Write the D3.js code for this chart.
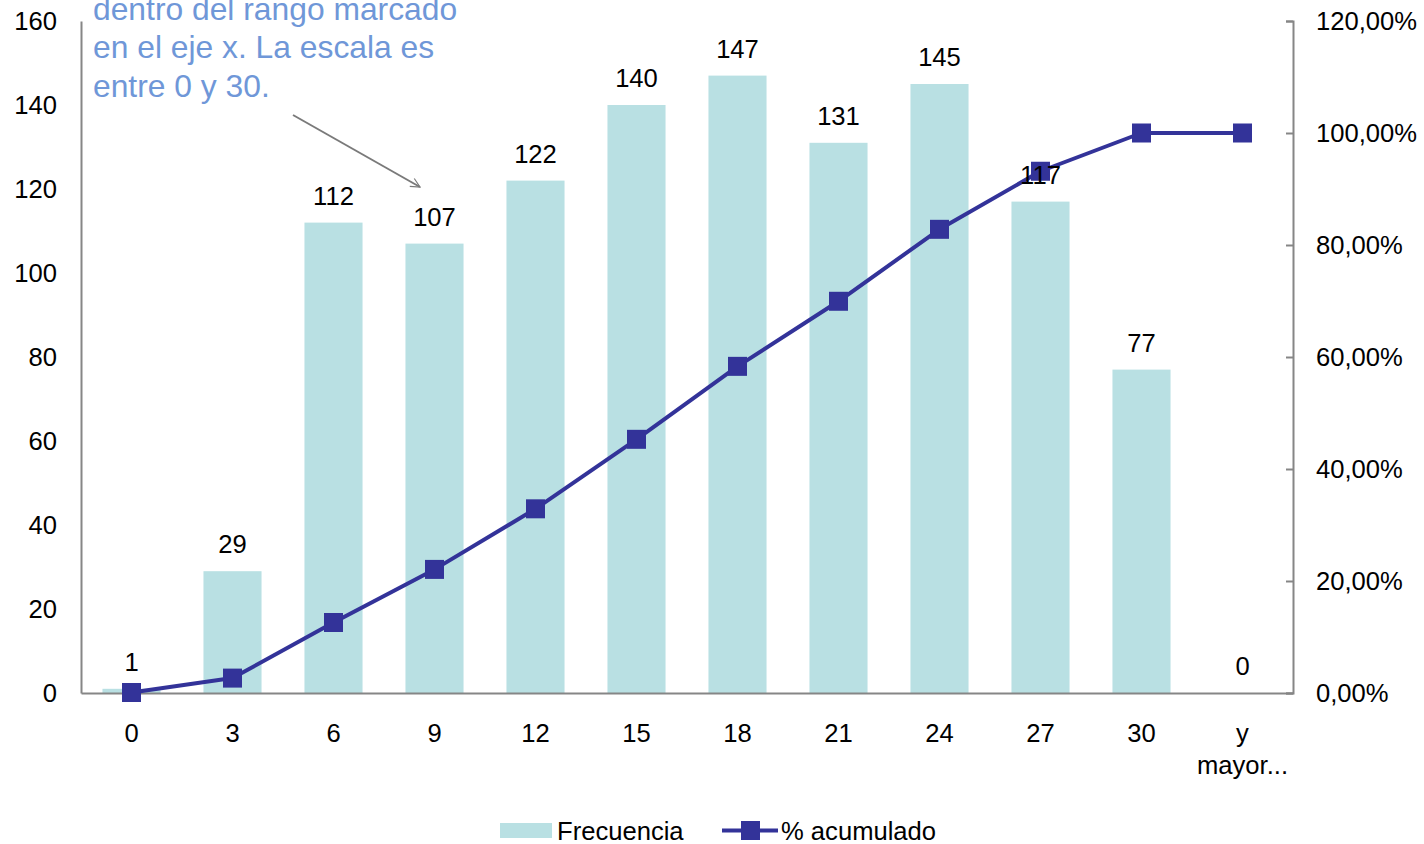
<!DOCTYPE html>
<html>
<head>
<meta charset="utf-8">
<script src="https://cdn.jsdelivr.net/npm/d3@7"></script>
<style>
  html, body { margin: 0; padding: 0; background: #fff; }
  svg { display: block; font-family: "Liberation Sans", Arial, sans-serif; }
</style>
</head>
<body>
<svg id="chart" width="1424" height="844"></svg>
<script>
// Histogram classes and their counts
const categories = ["0", "3", "6", "9", "12", "15", "18", "21", "24", "27", "30", "y mayor..."];
const frequency = [1, 29, 112, 107, 122, 140, 147, 131, 145, 117, 77, 0];
// Cumulative percentage per class
const cumulativePct = [0.09, 2.66, 12.59, 22.07, 32.89, 45.30, 58.33, 69.95, 82.80, 93.17, 100, 100];
const leftTicks = [0, 20, 40, 60, 80, 100, 120, 140, 160];
const rightTicks = [0, 20, 40, 60, 80, 100, 120];
const noteLines = ["dentro del rango marcado", "en el eje x. La escala es", "entre 0 y 30."];

const svg = d3.select("#chart");
const plotLeft = 81, plotRight = 1293, plotTop = 21, plotBottom = 693;
const axisColor = "#868686";
const barColor = "#b9e0e3";
const lineColor = "#333399";
const fontFam = "Liberation Sans, Arial, sans-serif";
const fs = 25.6;

const x = d3.scaleBand().domain(categories).range([plotLeft, plotRight]).paddingInner(0.425).paddingOuter(0.2125);
const y = d3.scaleLinear().domain([0, 160]).range([plotBottom, plotTop]);
const y2 = d3.scaleLinear().domain([0, 120]).range([plotBottom, plotTop]);

// Bars
svg.append("g").selectAll("rect").data(frequency).join("rect")
  .attr("x", (d, i) => x(categories[i]))
  .attr("y", d => y(d))
  .attr("width", x.bandwidth())
  .attr("height", d => plotBottom - y(d))
  .attr("fill", barColor);

// Left axis
const gL = svg.append("g").attr("transform", `translate(${plotLeft},0)`)
  .call(d3.axisLeft(y).tickValues(leftTicks).tickSize(0).tickPadding(24).tickFormat(d3.format("d")));
gL.select(".domain").attr("stroke", axisColor).attr("stroke-width", 2);
gL.selectAll("text").attr("font-size", fs).attr("fill", "#000").attr("font-family", fontFam);

// Right axis
const pctFmt = d => d3.format(".2f")(d).replace(".", ",") + "%";
const gR = svg.append("g").attr("transform", `translate(${plotRight},0)`)
  .call(d3.axisRight(y2).tickValues(rightTicks).tickSizeInner(-7).tickSizeOuter(-7).tickPadding(23).tickFormat(pctFmt));
gR.select(".domain").attr("stroke", axisColor).attr("stroke-width", 2);
gR.selectAll("line").attr("stroke", axisColor).attr("stroke-width", 2);
gR.selectAll("text").attr("font-size", fs).attr("fill", "#000").attr("font-family", fontFam);

// Bottom axis
const gB = svg.append("g").attr("transform", `translate(0,${plotBottom})`)
  .call(d3.axisBottom(x).tickSize(0).tickPadding(0).tickFormat(""));
gB.select(".domain").attr("stroke", axisColor).attr("stroke-width", 2);
gB.selectAll(".tick").each(function(d) {
  const words = d === "y mayor..." ? ["y", "mayor..."] : [d];
  const t = d3.select(this).append("text")
    .attr("fill", "#000").attr("font-size", fs).attr("text-anchor", "middle")
    .attr("font-family", fontFam);
  words.forEach((w, k) => t.append("tspan").attr("x", 0).attr("y", 49 + k * 32).text(w));
});

// Cumulative line
const cx = i => x(categories[i]) + x.bandwidth() / 2;
svg.append("path")
  .datum(cumulativePct)
  .attr("fill", "none")
  .attr("stroke", lineColor)
  .attr("stroke-width", 4)
  .attr("stroke-linejoin", "round")
  .attr("d", d3.line().x((d, i) => cx(i)).y(d => y2(d)));

const m = 19;
svg.append("g").selectAll("rect").data(cumulativePct).join("rect")
  .attr("x", (d, i) => cx(i) - m / 2)
  .attr("y", d => y2(d) - m / 2)
  .attr("width", m).attr("height", m)
  .attr("fill", lineColor);

// Value labels above bars (drawn over the line)
svg.append("g").selectAll("text").data(frequency).join("text")
  .attr("x", (d, i) => cx(i))
  .attr("y", d => y(d) - 18)
  .attr("text-anchor", "middle")
  .attr("font-size", fs)
  .attr("fill", "#000")
  .text(d => d);

// Annotation note
const note = svg.append("text").attr("fill", "#6f97d8").attr("font-size", 31.8);
noteLines.forEach((t, k) => note.append("tspan").attr("x", 93).attr("y", 19.5 + k * 38.8).text(t));

// Annotation arrow
const defs = svg.append("defs");
defs.append("marker").attr("id", "arrowOpen")
  .attr("viewBox", "0 0 12 12").attr("refX", 11).attr("refY", 6)
  .attr("markerWidth", 11).attr("markerHeight", 11).attr("markerUnits", "userSpaceOnUse")
  .attr("orient", "auto")
  .append("path").attr("d", "M1,1 L11,6 L1,11").attr("fill", "none").attr("stroke", "#7a7a7a").attr("stroke-width", 1.3);
svg.append("line")
  .attr("x1", 293).attr("y1", 115).attr("x2", 420).attr("y2", 187)
  .attr("stroke", "#7a7a7a").attr("stroke-width", 2)
  .attr("marker-end", "url(#arrowOpen)");

// Legend
const lg = svg.append("g").attr("font-size", fs).attr("fill", "#000");
lg.append("rect").attr("x", 500).attr("y", 823).attr("width", 52).attr("height", 15).attr("fill", barColor);
lg.append("text").attr("x", 557).attr("y", 840).text("Frecuencia");
lg.append("line").attr("x1", 722).attr("x2", 778).attr("y1", 830.5).attr("y2", 830.5)
  .attr("stroke", lineColor).attr("stroke-width", 4);
lg.append("rect").attr("x", 741).attr("y", 821).attr("width", 19).attr("height", 19).attr("fill", lineColor);
lg.append("text").attr("x", 781).attr("y", 840).text("% acumulado");
</script>
</body>
</html>
